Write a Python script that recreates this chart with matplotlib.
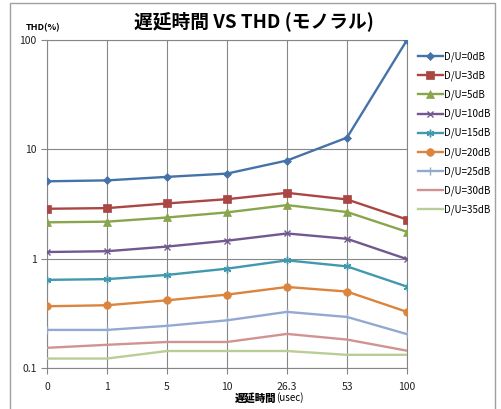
import numpy as np
import matplotlib.pyplot as plt
from matplotlib.patches import Rectangle

plt.rcParams['font.family'] = ['Noto Sans CJK JP', 'DejaVu Sans']

# データ
delays = ['0', '1', '5', '10', '26.3', '53', '100']
labels = ['D/U=0dB', 'D/U=3dB', 'D/U=5dB', 'D/U=10dB', 'D/U=15dB',
          'D/U=20dB', 'D/U=25dB', 'D/U=30dB', 'D/U=35dB']
thd_0 = [5.1, 5.2, 5.6, 6.0, 7.9, 12.8, 100]
thd_3 = [2.86, 2.9, 3.2, 3.5, 4.0, 3.48, 2.28]
thd_5 = [2.15, 2.18, 2.38, 2.65, 3.09, 2.67, 1.76]
thd_10 = [1.15, 1.17, 1.29, 1.46, 1.70, 1.52, 0.99]
thd_15 = [0.64, 0.65, 0.71, 0.81, 0.965, 0.85, 0.555]
thd_20 = [0.367, 0.375, 0.416, 0.469, 0.551, 0.50, 0.326]
thd_25 = [0.223, 0.223, 0.243, 0.273, 0.326, 0.293, 0.204]
thd_30 = [0.153, 0.163, 0.173, 0.173, 0.205, 0.182, 0.144]
thd_35 = [0.122, 0.122, 0.143, 0.143, 0.143, 0.132, 0.132]

series = [thd_0, thd_3, thd_5, thd_10, thd_15, thd_20, thd_25, thd_30, thd_35]
colors = ['#4572A7', '#AA4643', '#89A54E', '#71588F', '#4198AF',
          '#DB843D', '#93A9CF', '#D19392', '#B9CD96']
markers = ['D', 's', '^', 'x', (6, 2, 0), 'o', '|', None, None]
msizes = [4.2, 5.8, 5.8, 5, 5.5, 5.5, 6, 0, 0]

fig = plt.figure(figsize=(5.02, 4.09), dpi=100)
ax = fig.add_axes([47/502, 1 - 368/409, 360/502, 328/409])

x = np.arange(len(delays))
for ys, c, m, ms, lab in zip(series, colors, markers, msizes, labels):
    thin = m in ('x', '|') or isinstance(m, tuple)
    ax.plot(x, ys, color=c, marker=m, markersize=ms, lw=1.7, label=lab,
            markeredgewidth=1.0 if thin else 0.5, markeredgecolor=c, zorder=3)

ax.set_yscale('log')
ax.set_ylim(0.1, 100)
ax.set_xlim(0, len(delays) - 1)
ax.set_xticks(x)
ax.set_xticklabels(delays)
ax.set_yticks([0.1, 1, 10, 100])
ax.set_yticklabels(['0.1', '1', '10', '100'])
ax.yaxis.set_minor_locator(plt.NullLocator())
ax.grid(True, color='#868686', lw=0.8)
ax.set_axisbelow(True)
for s in ax.spines.values():
    s.set_color('#868686')
    s.set_linewidth(0.8)
ax.tick_params(axis='both', colors='#868686', labelcolor='#222222', labelsize=7.5, length=4, width=0.8)
ax.tick_params(axis='x', pad=6)

# タイトルとラベル
fig.text(254/502, 1 - 21/409, '遅延時間 VS THD (モノラル)', ha='center', va='center',
         fontsize=13.5, fontweight='bold')
fig.text(43/502, 1 - 28/409, 'THD(%)', ha='center', va='center', fontsize=6.5, fontweight='bold')
fig.text(276/502, 1 - 398/409, '遅延時間', ha='right', va='center', fontsize=7.5, fontweight='black')
fig.text(276/502, 1 - 398/409, '(usec)', ha='left', va='center', fontsize=7)

leg = ax.legend(loc='upper left', bbox_to_anchor=(410/502, 1 - 44/409), bbox_transform=fig.transFigure,
                frameon=False, fontsize=7, handlelength=2.6, labelspacing=0.88,
                handletextpad=0.1, borderpad=0.3)

# 外枠
fig.patches.append(Rectangle((10/502, -0.01), 485/502, 1 - 3/409 + 0.01,
                             transform=fig.transFigure, fill=False, edgecolor='#A0A0A0', lw=1))

fig.savefig('out.png', dpi=100)
